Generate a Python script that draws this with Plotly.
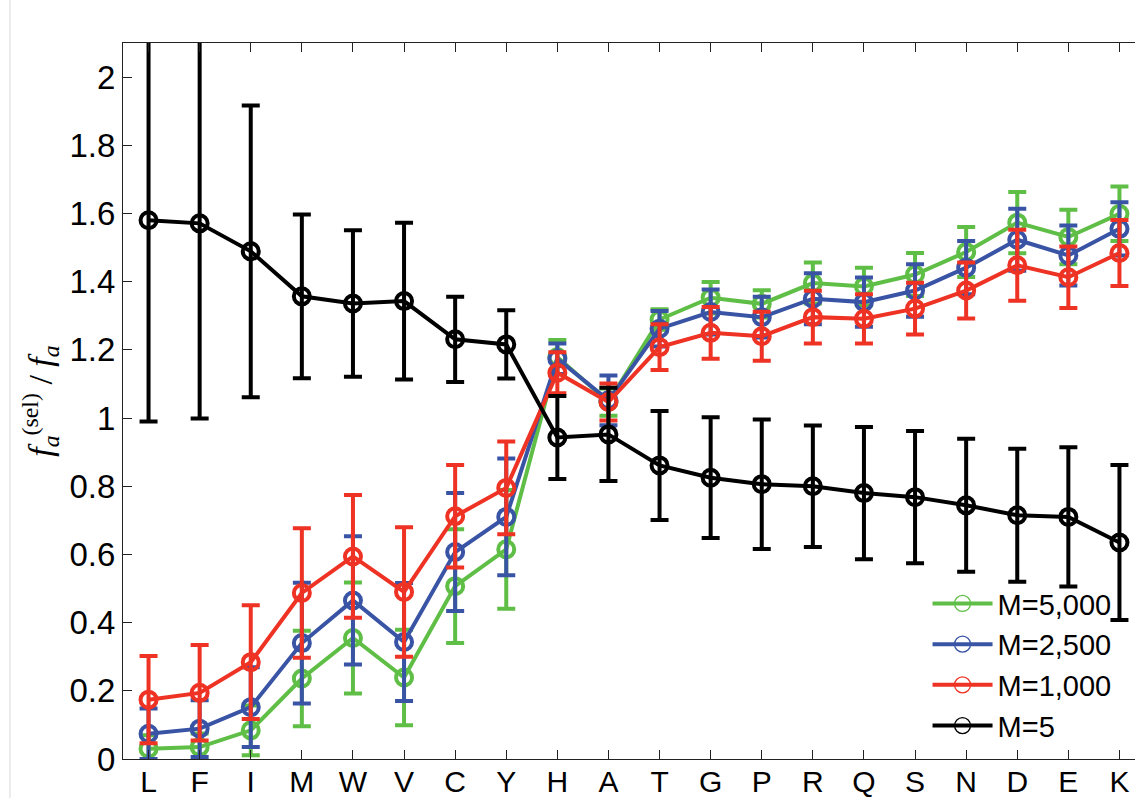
import plotly.graph_objects as go

categories = ["L", "F", "I", "M", "W", "V", "C", "Y", "H", "A",
              "T", "G", "P", "R", "Q", "S", "N", "D", "E", "K"]

# M=5,000
green_vals = [0.03, 0.035, 0.084, 0.236, 0.355, 0.239, 0.507, 0.615, 1.179, 1.047,
              1.289, 1.353, 1.335, 1.396, 1.386, 1.421, 1.487, 1.573, 1.531, 1.599]
green_err = [0.04, 0.04, 0.073, 0.14, 0.163, 0.14, 0.167, 0.174, 0.05, 0.04,
             0.03, 0.046, 0.04, 0.06, 0.055, 0.063, 0.073, 0.09, 0.08, 0.08]

# M=2,500
blue_vals = [0.074, 0.089, 0.152, 0.34, 0.465, 0.343, 0.607, 0.71, 1.174, 1.052,
             1.262, 1.311, 1.296, 1.35, 1.34, 1.374, 1.441, 1.523, 1.477, 1.555]
blue_err = [0.074, 0.083, 0.117, 0.177, 0.188, 0.173, 0.173, 0.171, 0.045, 0.073,
            0.052, 0.066, 0.06, 0.075, 0.072, 0.077, 0.078, 0.091, 0.088, 0.078]

# M=1,000
red_vals = [0.174, 0.194, 0.284, 0.487, 0.594, 0.49, 0.712, 0.795, 1.133, 1.047,
            1.208, 1.25, 1.24, 1.296, 1.291, 1.321, 1.374, 1.448, 1.413, 1.484]
red_err = [0.128, 0.14, 0.167, 0.19, 0.18, 0.19, 0.15, 0.136, 0.06, 0.054,
           0.067, 0.076, 0.072, 0.077, 0.072, 0.076, 0.082, 0.104, 0.09, 0.097]

# M=5
black_vals = [1.58, 1.571, 1.489, 1.357, 1.336, 1.343, 1.231, 1.216, 0.943, 0.952,
              0.861, 0.825, 0.806, 0.80, 0.78, 0.768, 0.744, 0.715, 0.71, 0.635]
black_err = [0.59, 0.572, 0.428, 0.24, 0.215, 0.23, 0.125, 0.10, 0.122, 0.137,
             0.16, 0.177, 0.19, 0.178, 0.194, 0.194, 0.195, 0.195, 0.204, 0.227]

series = [
    ("M=5,000", green_vals, green_err, "rgb(95,190,70)"),
    ("M=2,500", blue_vals, blue_err, "rgb(58,84,165)"),
    ("M=1,000", red_vals, red_err, "rgb(238,50,36)"),
    ("M=5", black_vals, black_err, "rgb(0,0,0)"),
]

x_idx = list(range(len(categories)))

fig = go.Figure()
for name, vals, err, col in series:
    fig.add_trace(go.Scatter(
        x=x_idx, y=vals, name=name, mode="lines+markers", showlegend=False,
        line=dict(color=col, width=4),
        marker=dict(symbol="circle-open", size=16, color=col, line=dict(width=4, color=col)),
        error_y=dict(type="data", array=err, visible=True, color=col, thickness=4, width=9),
        cliponaxis=True,
    ))

# legend entries (thin circle markers, as in the reference legend)
for name, vals, err, col in series:
    fig.add_trace(go.Scatter(
        x=[None], y=[None], name=name, mode="lines+markers", showlegend=True,
        line=dict(color=col, width=4),
        marker=dict(symbol="circle-open", size=16, color=col, line=dict(width=1.3, color=col)),
    ))

font_main = "Liberation Sans, Arial, Helvetica, sans-serif"

fig.update_layout(
    width=1135, height=798,
    margin=dict(l=123, r=0, t=43, b=39, autoexpand=False),
    paper_bgcolor="white", plot_bgcolor="white",
    font=dict(family=font_main, size=30, color="black"),
    showlegend=True,
    legend=dict(
        x=0.795, y=0.011, xanchor="left", yanchor="bottom",
        bgcolor="rgba(0,0,0,0)", borderwidth=0,
        font=dict(size=29, family=font_main, color="black"),
        itemwidth=60,
    ),
    xaxis=dict(
        range=[-0.5, -0.5 + (1135 - 123) / 51.1],
        tickmode="array", tickvals=x_idx, ticktext=categories,
        showline=True, linecolor="#222", linewidth=1.2, mirror="ticks",
        ticks="inside", ticklen=9, tickcolor="#222", tickwidth=1,
        showgrid=False, zeroline=False, automargin=False,
        tickfont=dict(size=30, family=font_main),
        ticklabelstandoff=-4,
    ),
    yaxis=dict(
        range=[0, 2.1], dtick=0.2, tick0=0,
        showline=True, linecolor="#222", linewidth=1.2, mirror=False,
        ticks="inside", ticklen=9, tickcolor="#222", tickwidth=1,
        showgrid=False, zeroline=False, automargin=False,
        tickfont=dict(size=33, family=font_main),
        title=dict(
            text="<i>f</i><sub><i>a</i></sub><sup>(sel)</sup> / <i>f</i><sub><i>a</i></sub>",
            font=dict(family="Liberation Serif, Times New Roman, serif", size=34),
            standoff=6,
        ),
    ),
    shapes=[dict(type="line", xref="paper", yref="paper",
                 x0=-0.1117, x1=-0.1117, y0=-0.06, y1=1.07,
                 line=dict(color="#d9d9d9", width=1))],
)

fig.write_html("out.html")
